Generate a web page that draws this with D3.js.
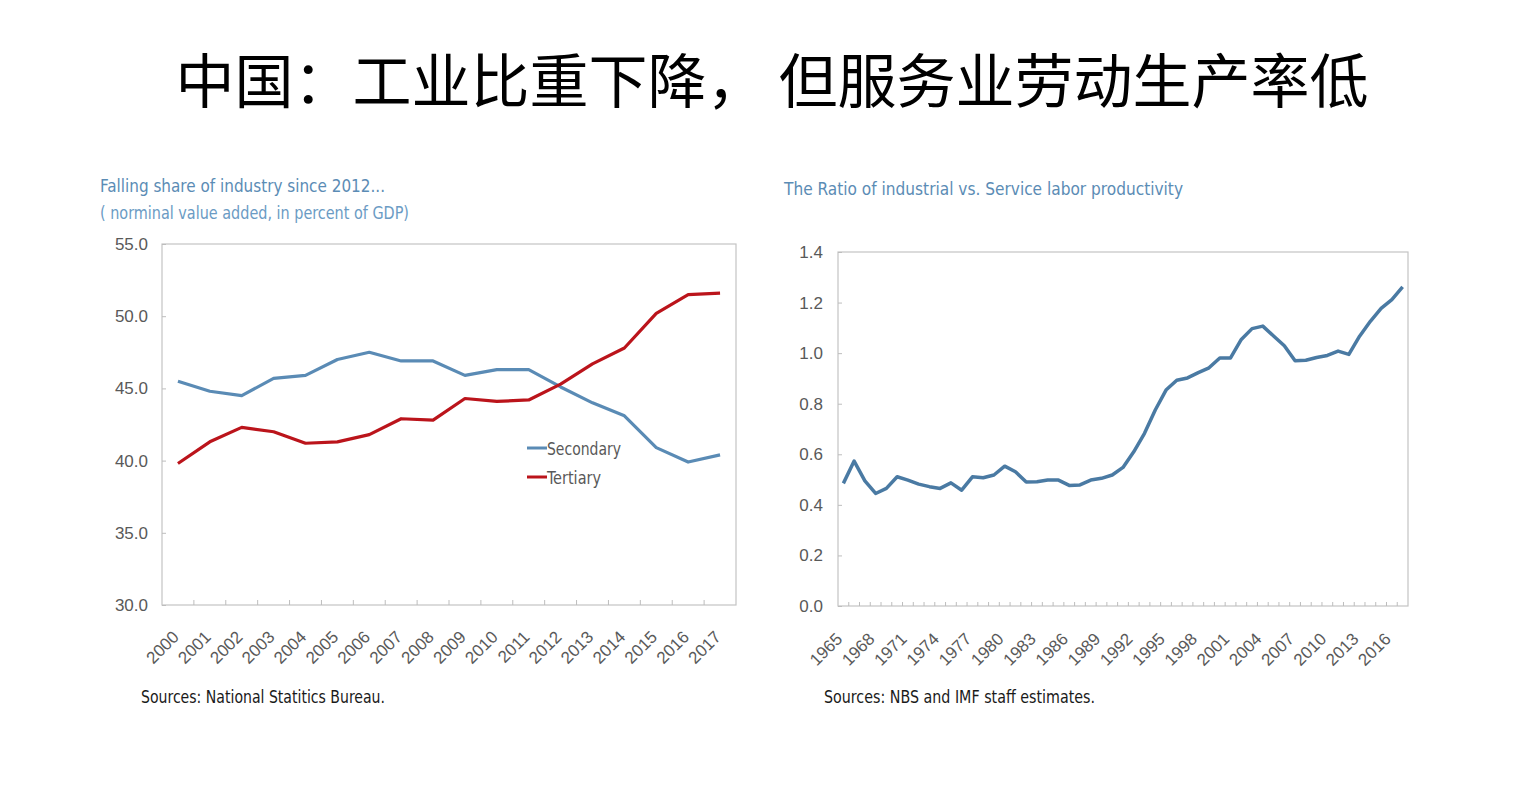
<!DOCTYPE html>
<html><head><meta charset="utf-8">
<script src="https://cdn.jsdelivr.net/npm/d3@7"></script>
<style>
body{margin:0;background:#fff;}
svg{display:block;}
.lat{font-family:"Liberation Sans Narrow","DejaVu Sans Condensed","Liberation Sans",sans-serif;}
</style></head>
<body><svg id="c" width="1528" height="786"></svg>
<script>
// ---- data ----
const titleText = "中国：工业比重下降， 但服务业劳动生产率低";
const leftTitle1 = "Falling share of industry since 2012...";
const leftTitle2 = "( norminal value added, in percent of GDP)";
const rightTitle = "The Ratio of industrial vs. Service labor productivity";
const leftSource = "Sources: National Statitics Bureau.";
const rightSource = "Sources: NBS and IMF staff estimates.";

const yearsL = ["2000","2001","2002","2003","2004","2005","2006","2007","2008","2009","2010","2011","2012","2013","2014","2015","2016","2017"];
const secondary = [45.5,44.8,44.5,45.7,45.9,47.0,47.5,46.9,46.9,45.9,46.3,46.3,45.1,44.0,43.1,40.9,39.9,40.4];
const tertiary  = [39.8,41.3,42.3,42.0,41.2,41.3,41.8,42.9,42.8,44.3,44.1,44.2,45.3,46.7,47.8,50.2,51.5,51.6];
const yTicksL = [30,35,40,45,50,55];

const yearsR = ["1965","1966","1967","1968","1969","1970","1971","1972","1973","1974","1975","1976","1977","1978","1979","1980","1981","1982","1983","1984","1985","1986","1987","1988","1989","1990","1991","1992","1993","1994","1995","1996","1997","1998","1999","2000","2001","2002","2003","2004","2005","2006","2007","2008","2009","2010","2011","2012","2013","2014","2015","2016","2017"];
const ratio = [0.485,0.573,0.495,0.445,0.465,0.511,0.498,0.482,0.472,0.465,0.487,0.458,0.511,0.507,0.518,0.553,0.531,0.490,0.491,0.498,0.498,0.477,0.479,0.498,0.505,0.518,0.548,0.610,0.683,0.775,0.854,0.893,0.902,0.923,0.942,0.981,0.981,1.054,1.097,1.107,1.068,1.029,0.970,0.972,0.983,0.991,1.008,0.995,1.067,1.126,1.177,1.212,1.262];
const yTicksR = [0,0.2,0.4,0.6,0.8,1.0,1.2,1.4];
const xLabelsR = ["1965","1968","1971","1974","1977","1980","1983","1986","1989","1992","1995","1998","2001","2004","2007","2010","2013","2016"];

const legendItems = [{name:"Secondary", color:"#5a8bb5", w:74},{name:"Tertiary", color:"#bb141b", w:54}];

// ---- drawing ----
const svg = d3.select("#c");
svg.append("rect").attr("width",1528).attr("height",786).attr("fill","#fff");

svg.append("text").attr("x",772).attr("y",103).attr("text-anchor","middle")
  .attr("font-family","'Noto Sans CJK SC',sans-serif").attr("font-size",59)
  .attr("fill","#000").text(titleText);

const frameColor = "#c4c4c4", tickColor="#bdbdbd", labelColor="#595959";

function fitText(sel, w){ return sel.attr("textLength",w).attr("lengthAdjust","spacingAndGlyphs"); }

function panel(opts){
  const g = svg.append("g").attr("class","lat");
  const x = d3.scaleBand().domain(opts.years).range([opts.x0,opts.x1]);
  const y = d3.scaleLinear().domain(opts.ydom).range([opts.y1,opts.y0]);
  g.append("rect").attr("x",opts.x0).attr("y",opts.y0).attr("width",opts.x1-opts.x0).attr("height",opts.y1-opts.y0)
    .attr("fill","none").attr("stroke",frameColor).attr("stroke-width",1.2);
  const ya = g.append("g").attr("transform",`translate(${opts.x0},0)`)
    .call(d3.axisLeft(y).tickValues(opts.yticks).tickFormat(d3.format(".1f")).tickSizeInner(-4).tickSizeOuter(0).tickPadding(opts.ypad));
  ya.select(".domain").remove();
  ya.selectAll(".tick line").attr("stroke",tickColor);
  ya.selectAll(".tick text").attr("fill",labelColor).attr("font-size",opts.fs).attr("font-family","inherit");
  g.append("g").selectAll("line").data(opts.years.slice(1)).join("line")
    .attr("x1",d=>x(d)).attr("x2",d=>x(d)).attr("y1",opts.y1).attr("y2",opts.y1-opts.xtick)
    .attr("stroke",tickColor).attr("stroke-width",1);
  const xa = g.append("g").attr("transform",`translate(0,${opts.y1})`)
    .call(d3.axisBottom(x).tickValues(opts.xlabels).tickSize(0).tickPadding(0));
  xa.select(".domain").remove();
  xa.selectAll(".tick text").attr("fill",labelColor).attr("font-size",opts.fs).attr("font-family","inherit")
    .attr("text-anchor","end").attr("dy",null).attr("y",null)
    .attr("transform",`translate(${opts.lx},${opts.ly}) rotate(-45)`);
  return {g,x,y};
}

// left panel
const L = panel({years:yearsL, x0:162, x1:736, y0:244, y1:605, ydom:[30,55], yticks:yTicksL, ypad:14,
  xlabels:yearsL, xtick:5, fs:17, lx:2, ly:33});
const lineL = d3.line().x((d,i)=>L.x(yearsL[i])+L.x.bandwidth()/2).y(d=>L.y(d));
L.g.append("path").attr("d",lineL(secondary)).attr("fill","none").attr("stroke",legendItems[0].color).attr("stroke-width",3.2).attr("stroke-linejoin","round");
L.g.append("path").attr("d",lineL(tertiary)).attr("fill","none").attr("stroke",legendItems[1].color).attr("stroke-width",3.2).attr("stroke-linejoin","round");
const lg = L.g.append("g").attr("transform","translate(527,448)");
legendItems.forEach((it,i)=>{
  lg.append("line").attr("x1",0).attr("x2",20).attr("y1",i*29).attr("y2",i*29).attr("stroke",it.color).attr("stroke-width",3);
  fitText(lg.append("text").attr("x",20).attr("y",i*29+6.5).attr("fill",labelColor).attr("font-size",18).text(it.name), it.w);
});
fitText(L.g.append("text").attr("x",100).attr("y",192).attr("fill","#5b8cb5").attr("font-size",17).text(leftTitle1), 285);
fitText(L.g.append("text").attr("x",100).attr("y",219).attr("fill","#6b9bc4").attr("font-size",17).text(leftTitle2), 309);
fitText(L.g.append("text").attr("x",141).attr("y",703).attr("fill","#1a1a1a").attr("font-size",18).text(leftSource), 244);

// right panel
const R = panel({years:yearsR, x0:838, x1:1408, y0:252, y1:606, ydom:[0,1.4], yticks:yTicksR, ypad:15,
  xlabels:xLabelsR, xtick:4, fs:17, lx:0, ly:34});
const lineR = d3.line().x((d,i)=>R.x(yearsR[i])+R.x.bandwidth()/2).y(d=>R.y(d));
R.g.append("path").attr("d",lineR(ratio)).attr("fill","none").attr("stroke","#4a7aa3").attr("stroke-width",3.5).attr("stroke-linejoin","round");
fitText(R.g.append("text").attr("x",784).attr("y",195).attr("fill","#5b8cb5").attr("font-size",17.5).text(rightTitle), 399);
fitText(R.g.append("text").attr("x",824).attr("y",703).attr("fill","#1a1a1a").attr("font-size",18).text(rightSource), 271);
</script>
</body></html>
